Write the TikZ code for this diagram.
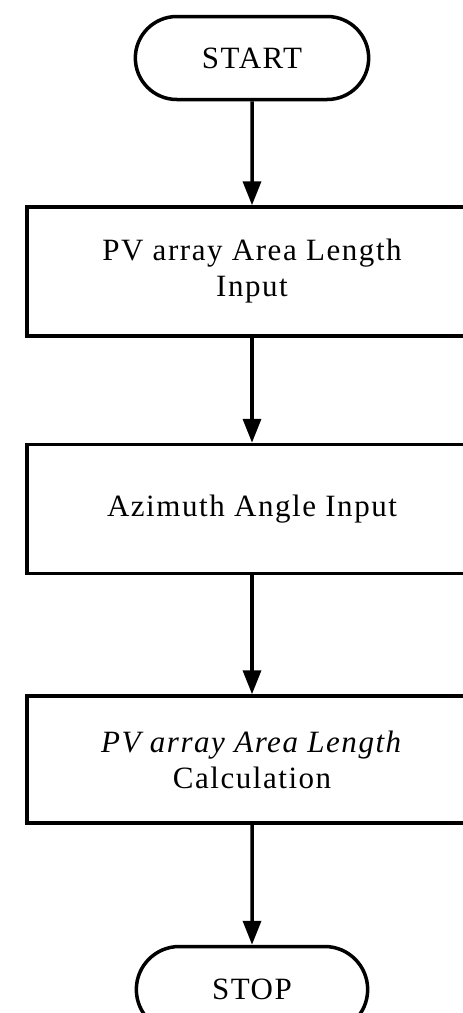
\documentclass[tikz,border=0pt]{standalone}
\usepackage{fontspec}
\setmainfont{Liberation Serif}[LetterSpace=5]
\usetikzlibrary{positioning,shapes.misc,arrows.meta}

\begin{document}
\begin{tikzpicture}[x=1pt, y=1pt, line width=3.5pt,
    >={Triangle[length=24pt,width=18pt]},
    font=\fontsize{31}{36}\selectfont]
    \useasboundingbox[clip] (0,0) rectangle (463,-1013);
    % Define nodes
    \node [rounded rectangle, draw, minimum width=240pt, minimum height=83pt] (start) at (252,-58) {START};
    \node [rectangle, draw, align=center, minimum width=450pt, minimum height=129pt, below=104pt of start] (lengthin) {PV array Area Length\\Input};
    \node [rectangle, draw, minimum width=450pt, minimum height=129pt, below=105pt of lengthin] (azimuth) {Azimuth Angle Input};
    \node [rectangle, draw, align=center, minimum width=450pt, minimum height=127pt, below=119pt of azimuth] (lengthcalc) {\textit{PV array Area Length}\\Calculation};
    \node [rounded rectangle, draw, minimum width=238pt, minimum height=86pt, below=120pt of lengthcalc] (stop) {STOP};

    % Draw edges
    \draw [->] (start) -- (lengthin);
    \draw [->] (lengthin) -- (azimuth);
    \draw [->] (azimuth) -- (lengthcalc);
    \draw [->] (lengthcalc) -- (stop);
\end{tikzpicture}
\end{document}
